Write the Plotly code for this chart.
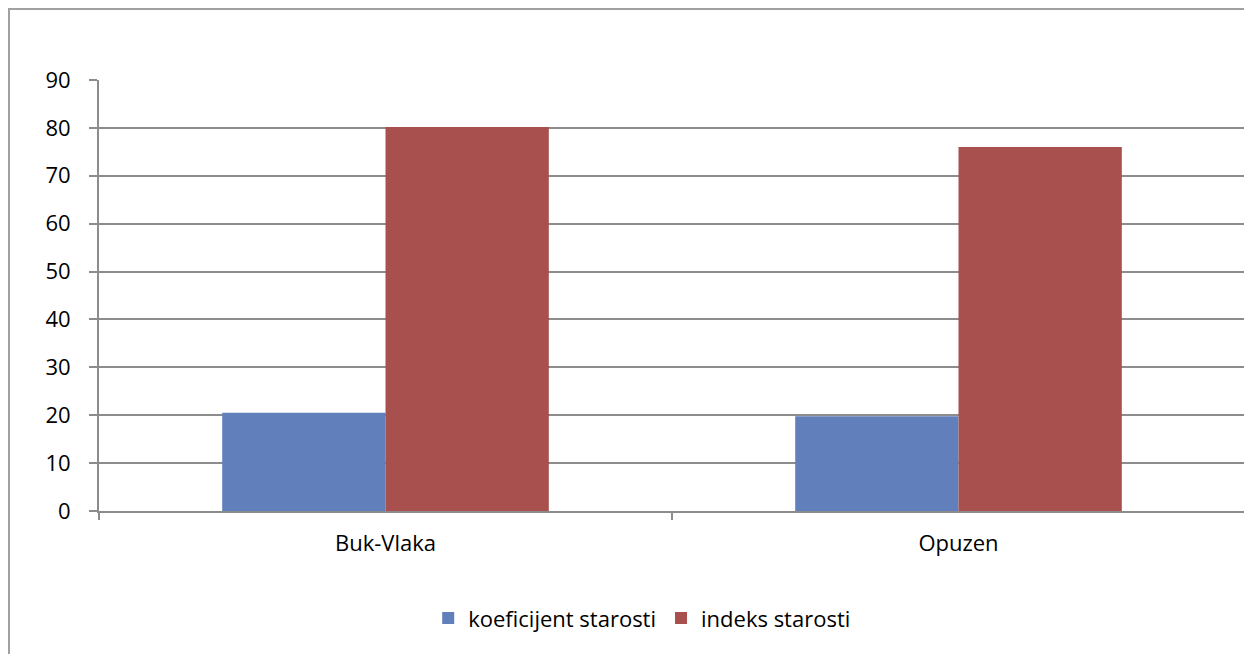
import plotly.graph_objects as go

categories = ["Buk-Vlaka", "Opuzen"]
koeficijent = [20.5, 19.8]
indeks = [80.2, 76.0]

font_name = "Open Sans, Liberation Sans, Arial"

trace0 = go.Bar(x=categories, y=koeficijent, name="koeficijent starosti",
                marker=dict(color="#607fbb", line=dict(width=0)))
trace1 = go.Bar(x=categories, y=indeks, name="indeks starosti",
                marker=dict(color="#a8504e", line=dict(width=0)))

# the page body adds 8px, so the figure is a bit smaller than the window
layout = go.Layout(
    width=1244, height=646,
    margin=dict(l=91, r=7, t=72, b=143),
    plot_bgcolor="white", paper_bgcolor="white",
    barmode="group", bargap=0.43, bargroupgap=0,
    font=dict(family=font_name, size=22, color="black"),
    showlegend=True,
    legend=dict(orientation="h", x=0.474, xanchor="center", y=-0.2, yanchor="top",
                font=dict(size=22), itemwidth=30, traceorder="normal"),
    xaxis=dict(showline=True, linecolor="#8c8c8c", linewidth=2,
               ticks="outside", tickson="boundaries", ticklen=7, tickcolor="#8c8c8c",
               tickwidth=2, showgrid=False, tickfont=dict(size=22),
               ticklabelstandoff=12),
    yaxis=dict(range=[0, 90], dtick=10, showline=True, linecolor="#8c8c8c", linewidth=2,
               ticks="outside", ticklen=8, tickcolor="#8c8c8c", tickwidth=2,
               showgrid=True, gridcolor="#8c8c8c", gridwidth=2, zeroline=False,
               ticklabelstandoff=14, tickfont=dict(size=22)),
    shapes=[dict(type="rect", xref="paper", yref="paper",
                 x0=(9 - 99) / 1146, x1=(1270 - 99) / 1146,
                 y0=(511 - 680) / 431, y1=(511 - 9) / 431,
                 line=dict(color="#a0a0a0", width=2), fillcolor="rgba(0,0,0,0)",
                 layer="below")],
)

fig = go.Figure(data=[trace0, trace1], layout=layout)
fig.write_html("out.html")
